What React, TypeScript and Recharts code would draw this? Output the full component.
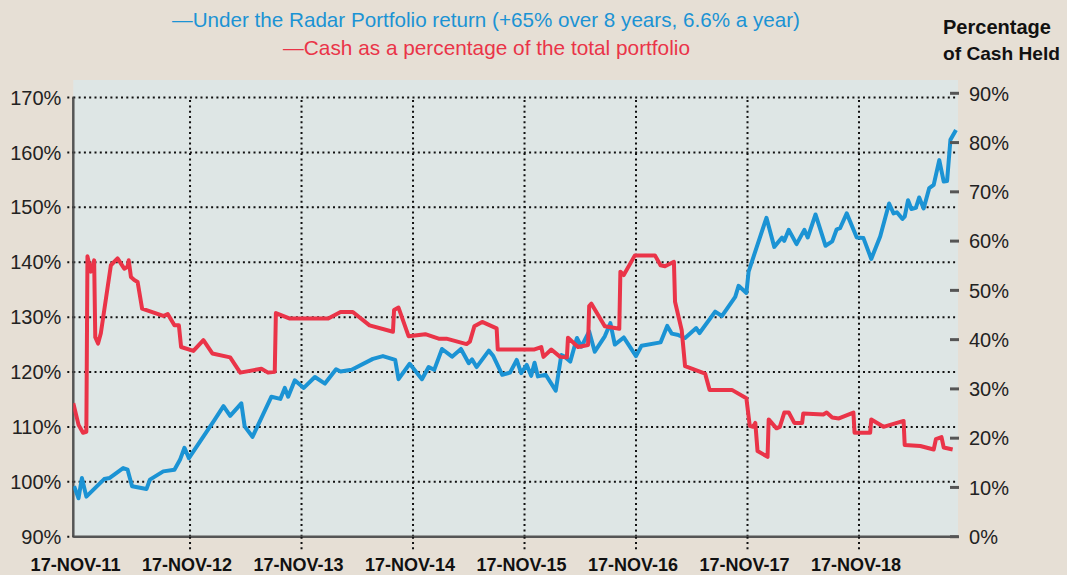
import React from 'react';
import { LineChart, Line, XAxis, YAxis, CartesianGrid, ReferenceLine } from 'recharts';

// x values: years since 17 Nov 2011
const yearTicks = [0, 1, 2, 3, 4, 5, 6, 7];
const yearLabels = ['17-NOV-11', '17-NOV-12', '17-NOV-13', '17-NOV-14', '17-NOV-15', '17-NOV-16', '17-NOV-17', '17-NOV-18'];
const returnTicks = [90, 100, 110, 120, 130, 140, 150, 160, 170];
const cashTicks = [0, 10, 20, 30, 40, 50, 60, 70, 80, 90];

const returnDates = [
  -0.04, 0.0, 0.03, 0.07, 0.23, 0.28, 0.4, 0.44, 0.48, 0.61,
  0.64, 0.76, 0.86, 0.91, 0.95, 0.99, 1.22, 1.3, 1.36, 1.46,
  1.49, 1.56, 1.73, 1.81, 1.85, 1.88, 1.94, 2.02, 2.12, 2.21,
  2.31, 2.35, 2.45, 2.64, 2.73, 2.84, 2.87, 2.97, 3.08, 3.14,
  3.19, 3.26, 3.35, 3.43, 3.5, 3.53, 3.57, 3.68, 3.72, 3.8,
  3.87, 3.93, 3.97, 4.02, 4.06, 4.09, 4.12, 4.19, 4.28, 4.33,
  4.36, 4.41, 4.47, 4.51, 4.58, 4.63, 4.72, 4.77, 4.81, 4.89,
  5.0, 5.05, 5.22, 5.28, 5.32, 5.37, 5.44, 5.54, 5.57, 5.71,
  5.77, 5.89, 5.92, 5.99, 6.01, 6.17, 6.24, 6.31, 6.33, 6.37,
  6.44, 6.51, 6.54, 6.61, 6.7, 6.76, 6.8, 6.83, 6.89, 6.98,
  7.04, 7.11, 7.19, 7.27, 7.31, 7.34, 7.39, 7.41, 7.44, 7.47,
  7.51, 7.54, 7.58, 7.63, 7.67, 7.72, 7.76, 7.79, 7.82, 7.87,
];
const returnValues = [
  99.2, 97.0, 100.7, 97.3, 100.5, 100.7, 102.5, 102.2, 99.2, 98.7,
  100.4, 101.9, 102.2, 104.0, 106.2, 104.3, 111.3, 113.8, 112.0, 114.3,
  110.1, 108.2, 115.5, 115.1, 117.1, 115.5, 118.5, 117.1, 119.1, 117.9,
  120.5, 120.1, 120.4, 122.4, 122.9, 122.2, 118.7, 121.5, 118.7, 120.9,
  120.4, 124.2, 122.8, 124.2, 121.6, 122.3, 120.9, 123.9, 122.9, 119.5,
  119.9, 122.2, 119.8, 121.3, 119.3, 121.7, 119.2, 119.5, 116.6, 123.1,
  122.8, 121.9, 126.2, 124.6, 127.4, 123.7, 126.5, 128.9, 125.0, 126.3,
  122.9, 124.8, 125.4, 128.4, 127.0, 126.8, 126.2, 128.0, 127.1, 131.0,
  130.2, 133.7, 135.7, 134.4, 138.3, 148.1, 142.8, 144.5, 143.9, 145.9,
  143.3, 145.9, 144.5, 148.7, 143.0, 143.8, 146.0, 146.2, 148.9, 144.5,
  144.4, 140.6, 144.7, 150.7, 148.9, 149.1, 147.9, 148.3, 151.3, 149.7,
  149.9, 151.8, 149.8, 153.5, 154.1, 158.6, 154.7, 154.8, 162.3, 164.1,
];

const cashDates = [
  -0.047, 0.0, 0.04, 0.07, 0.08, 0.11, 0.14, 0.15, 0.175, 0.2,
  0.29, 0.35, 0.41, 0.44, 0.45, 0.47, 0.5, 0.53, 0.57, 0.76,
  0.8, 0.86, 0.9, 0.92, 1.03, 1.12, 1.2, 1.36, 1.45, 1.64,
  1.7, 1.76, 1.77, 1.89, 2.24, 2.35, 2.46, 2.61, 2.82, 2.83,
  2.87, 2.96, 3.11, 3.23, 3.3, 3.48, 3.51, 3.55, 3.62, 3.75,
  3.76, 4.09, 4.15, 4.17, 4.24, 4.32, 4.38, 4.39, 4.48, 4.57,
  4.58, 4.6, 4.72, 4.85, 4.86, 4.89, 4.99, 5.17, 5.22, 5.26,
  5.34, 5.35, 5.41, 5.44, 5.62, 5.66, 5.86, 5.99, 6.02, 6.05,
  6.07, 6.09, 6.18, 6.19, 6.26, 6.29, 6.33, 6.37, 6.42, 6.49,
  6.5, 6.68, 6.71, 6.76, 6.82, 6.95, 6.96, 7.1, 7.11, 7.22,
  7.4, 7.41, 7.55, 7.67, 7.69, 7.74, 7.76, 7.84,
];
const cashValues = [
  27.1, 22.7, 21.1, 21.3, 56.9, 53.8, 56.1, 40.5, 39.2, 41.3,
  55.1, 56.5, 54.4, 54.8, 56.1, 52.7, 52.1, 51.7, 46.3, 44.8,
  45.2, 42.9, 42.9, 38.5, 37.7, 39.9, 37.2, 36.4, 33.3, 34.1,
  33.3, 33.5, 45.4, 44.3, 44.3, 45.6, 45.6, 42.9, 41.6, 46.0,
  46.5, 40.7, 41.1, 40.2, 40.2, 39.1, 39.6, 42.7, 43.6, 42.3,
  38.0, 38.0, 38.5, 36.5, 38.0, 36.5, 36.4, 40.4, 38.5, 38.9,
  46.8, 47.3, 42.7, 42.2, 53.8, 53.1, 57.1, 57.1, 55.1, 54.9,
  55.8, 47.7, 41.9, 34.6, 33.1, 29.8, 29.8, 28.1, 22.5, 22.3,
  23.1, 17.4, 16.2, 23.8, 22.0, 22.3, 25.2, 25.2, 23.1, 23.1,
  25.0, 24.8, 25.2, 24.2, 24.0, 25.2, 21.1, 21.1, 23.8, 22.3,
  23.5, 18.6, 18.4, 17.7, 19.8, 20.2, 18.1, 17.7,
];

const returnData = returnDates.map((t, i) => ({ t, v: returnValues[i] }));
const cashData = cashDates.map((t, i) => ({ t, c: cashValues[i] }));

const X_MIN = -0.047;
const X_MAX = 7.888;
const FONT = '"Liberation Sans", Arial, Helvetica, sans-serif';
const BLUE = '#1b93d4';
const RED = '#ea3448';
const DOT = '2 3.3';

function YearTick(props: any) {
  const { x, y, payload } = props;
  const idx = yearTicks.indexOf(payload.value);
  return (
    <g>
      {idx > 0 && (
        <line x1={x} x2={x} y1={y} y2={y + 13} stroke="#111" strokeWidth={2} strokeDasharray={DOT} />
      )}
      <text
        x={x - 3}
        y={y + 34}
        textAnchor="middle"
        fontFamily={FONT}
        fontWeight="bold"
        fontSize={19}
        fill="#111"
        textLength={90}
        lengthAdjust="spacingAndGlyphs"
      >
        {yearLabels[idx]}
      </text>
    </g>
  );
}

function CashTick(props: any) {
  const { x, y, payload } = props;
  return (
    <g>
      <line x1={x - 8} x2={x + 1} y1={y} y2={y} stroke="#555" strokeWidth={3} />
      <text x={x + 11} y={y} dy="0.36em" textAnchor="start" fontFamily={FONT} fontSize={20} fill="#222">
        {payload.value}%
      </text>
    </g>
  );
}

export default function App() {
  return (
    <div style={{ position: 'absolute', left: 0, top: 0, width: 1067, height: 575, background: '#e6dfd5', overflow: 'hidden' }}>
      <LineChart width={1067} height={575} margin={{ top: 80, right: 0, bottom: 0, left: 0 }}>
        <CartesianGrid vertical={false} horizontal={false} fill="#dee6e5" stroke="none" />
        <XAxis
          dataKey="t"
          type="number"
          domain={[X_MIN, X_MAX]}
          ticks={yearTicks}
          interval={0}
          allowDataOverflow
          tick={<YearTick />}
          tickLine={false}
          tickSize={0}
          tickMargin={0}
          axisLine={{ stroke: '#555', strokeWidth: 2.5 }}
          height={38.3}
        />
        <YAxis
          yAxisId={0}
          orientation="left"
          domain={[90, 173.2]}
          ticks={returnTicks}
          interval={0}
          allowDataOverflow
          width={73.3}
          axisLine={false}
          tickSize={6}
          tickMargin={6}
          tickLine={{ stroke: '#111', strokeWidth: 2, strokeDasharray: DOT }}
          tick={{ fontSize: 20, fill: '#222', fontFamily: FONT }}
          tickFormatter={(v: number) => `${v}%`}
        />
        <YAxis
          yAxisId="right"
          orientation="right"
          domain={[0, 92.7]}
          ticks={cashTicks}
          interval={0}
          allowDataOverflow
          width={109}
          axisLine={false}
          tickLine={false}
          tickSize={0}
          tickMargin={0}
          tick={<CashTick />}
        />
        {returnTicks.slice(1).map((v) => (
          <ReferenceLine
            key={`h${v}`}
            yAxisId={0}
            ifOverflow="visible"
            segment={[{ x: X_MIN, y: v }, { x: X_MAX, y: v }]}
            stroke="#111"
            strokeWidth={2}
            strokeDasharray={DOT}
          />
        ))}
        {yearTicks.slice(1).map((t) => (
          <ReferenceLine
            key={`v${t}`}
            yAxisId={0}
            ifOverflow="visible"
            segment={[{ x: t, y: 90 }, { x: t, y: 170 }]}
            stroke="#111"
            strokeWidth={2}
            strokeDasharray={DOT}
          />
        ))}
        <ReferenceLine
          yAxisId={0}
          ifOverflow="visible"
          segment={[{ x: X_MIN, y: 90 }, { x: X_MIN, y: 170 }]}
          stroke="#555"
          strokeWidth={2.5}
        />
        <Line
          data={returnData}
          dataKey="v"
          yAxisId={0}
          type="linear"
          stroke={BLUE}
          strokeWidth={4}
          strokeLinejoin="round"
          dot={false}
          isAnimationActive={false}
        />
        <Line
          data={cashData}
          dataKey="c"
          yAxisId="right"
          type="linear"
          stroke={RED}
          strokeWidth={4}
          strokeLinejoin="round"
          dot={false}
          isAnimationActive={false}
        />
      </LineChart>
      <svg width={1067} height={575} style={{ position: 'absolute', left: 0, top: 0, pointerEvents: 'none' }}>
        <text x={172} y={27} fontFamily={FONT} fontSize={21} fill={BLUE} textLength={628} lengthAdjust="spacingAndGlyphs">
          —Under the Radar Portfolio return (+65% over 8 years, 6.6% a year)
        </text>
        <text x={283} y={55} fontFamily={FONT} fontSize={21} fill={RED} textLength={407} lengthAdjust="spacingAndGlyphs">
          —Cash as a percentage of the total portfolio
        </text>
        <text x={943} y={34} fontFamily={FONT} fontWeight="bold" fontSize={20} fill="#111" textLength={108} lengthAdjust="spacingAndGlyphs">
          Percentage
        </text>
        <text x={943} y={60} fontFamily={FONT} fontWeight="bold" fontSize={19} fill="#111" textLength={117} lengthAdjust="spacingAndGlyphs">
          of Cash Held
        </text>
      </svg>
    </div>
  );
}
